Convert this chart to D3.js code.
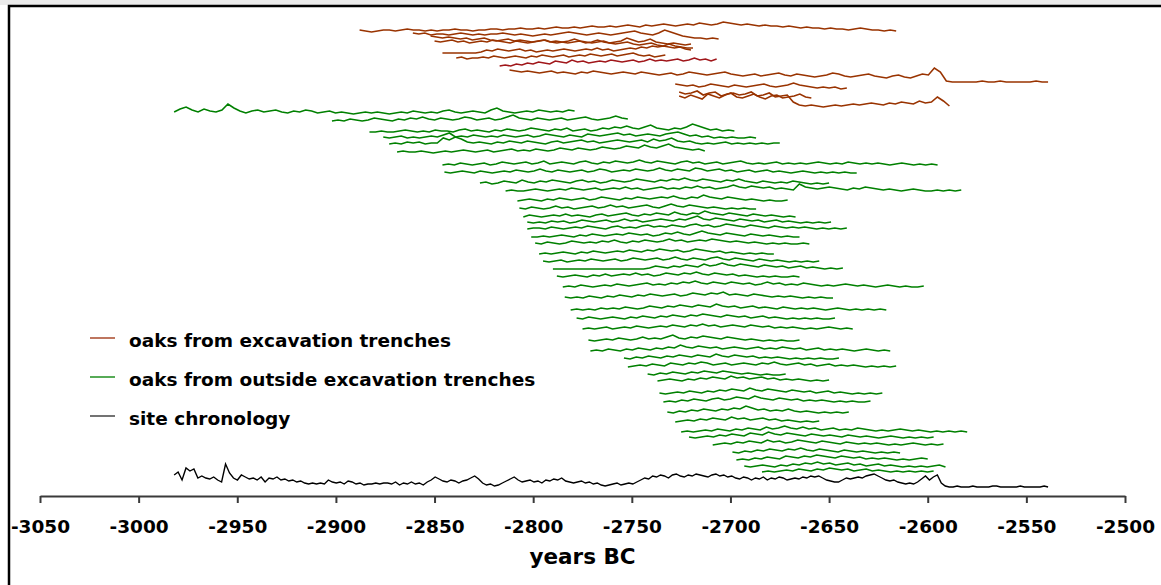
<!DOCTYPE html>
<html>
<head>
<meta charset="utf-8">
<script src="https://cdn.jsdelivr.net/npm/d3@7"></script>
<style>
  body { margin: 0; background: #fff; }
  svg { display: block; }
  text { font-family: "DejaVu Sans", Verdana, sans-serif; font-weight: bold; fill: #000; }
</style>
</head>
<body>
<svg id="chart" width="1161" height="585"></svg>
<script>
// x axis ticks (years BC)
const yearTicks = [-3050, -3000, -2950, -2900, -2850, -2800, -2750, -2700, -2650, -2600, -2550, -2500];

const legendLabels = ["oaks from excavation trenches", "oaks from outside excavation trenches", "site chronology"];

// oaks from excavation trenches: first year, last year, plotting offset, ring index
const brownStart = [-2888, -2861, -2852, -2850, -2846, -2839, -2817, -2812, -2728, -2726, -2726];
const brownEnd = [-2616, -2706, -2719, -2720, -2720, -2733, -2707, -2539, -2641, -2589, -2659];
const brownOffset = [463, 456, 446, 449, 441, 436, 428, 412, 406, 386, 394];
const brownRings = [
  [3,2,1,2,3,3,2,3,4,3,3,2,3,2,3,3,4,3,3,2,3,3,4,4,3,4,4,5,4,4,5,4,5,6,5,5,6,5,6,7,6,6,7,6,7,8,7,6,8,7,8,9,8,7,8,9,8,10,9,8,9,11,10,9,8,9,8,7,8,7,7,6,7,6,5,6,5,5,4,5,4,4,3,4,5,4,3,3,2,3,2],
  [7,6,7,5,6,6,5,6,7,6,5,6,5,6,6,7,6,5,6,5,4,5,6,5,6,7,8,7,6,5,6,7,6,5,6,7,8,9,7,6,5,7,10,8,6,4,3,2,2,1,2,1],
  [14,13,12,13,12,11,12,10,11,12,10,9,10,11,9,10,9,8,9,10,8,9,8,7,8,9,7,8,10,8,7,6,7,8,6,5,6,7,5,4,6,4,3,2,2],
  [6,5,6,7,5,6,4,5,6,5,7,6,5,4,6,5,4,5,6,7,5,4,5,6,8,6,5,4,5,6,4,5,6,9,7,5,6,8,5,4,3,4,3,2,3],
  [2,2,2,2,2,2,2,3,5,4,6,5,4,5,6,4,5,3,4,5,4,5,6,5,4,5,6,5,7,5,6,4,5,6,7,6,8,7,9,8,9,8,7,8,6,5],
  [2,3,1,2,2,3,2,4,3,2,3,4,3,2,4,3,5,4,3,4,5,3,4,5,4,6,5,4,5,6,4,5,6,7,5,4,5,3,4,5],
  [2,3,2,4,3,5,4,6,5,4,7,6,5,8,6,7,5,6,7,6,8,7,6,7,8,6,7,9,7,8,7,8,9,7,8,10,8,9,7,9],
  [14,13,12,13,12,11,12,13,11,12,11,10,12,11,13,12,11,10,11,12,11,10,12,11,10,9,10,11,9,10,12,11,10,9,10,11,12,10,9,8,9,10,8,9,10,11,9,8,10,9,8,7,8,9,11,10,8,7,8,9,10,8,7,6,8,9,7,6,8,10,9,16,12,3,2,2,2,2,2,3,2,2,3,2,2,2,2,2,3,2,2],
  [6,5,4,5,3,4,6,5,4,3,5,4,3,4,5,6,4,3,4,5,7,5,4,3,2,3,2,3,1,2],
  [18,16,17,19,15,17,18,14,16,17,15,16,18,14,15,17,13,14,15,8,5,4,5,4,3,4,5,4,5,6,5,6,7,6,5,7,6,8,7,6,9,7,8,13,9,4],
  [6,4,7,5,3,8,6,4,7,9,5,4,6,8,5,3,6,7,4,5,6,8,5,4]
];

// oaks from outside excavation trenches
const greenStart = [-2982, -2902, -2883, -2876, -2873, -2869, -2846, -2845, -2827, -2814, -2808, -2807, -2805, -2803, -2803, -2801, -2799, -2797, -2795, -2790, -2788, -2785, -2784, -2781, -2778, -2775, -2772, -2771, -2754, -2752, -2742, -2737, -2736, -2734, -2732, -2728, -2725, -2721, -2709, -2699, -2697, -2693, -2684];
const greenEnd = [-2779, -2752, -2698, -2687, -2675, -2713, -2595, -2636, -2650, -2583, -2671, -2687, -2667, -2649, -2641, -2665, -2660, -2678, -2655, -2643, -2665, -2602, -2648, -2621, -2647, -2638, -2665, -2619, -2645, -2616, -2672, -2650, -2623, -2629, -2640, -2655, -2580, -2597, -2592, -2614, -2600, -2591, -2597];
const greenOffset = [381, 373, 362, 356, 350, 342, 329, 321, 310, 303, 293, 285, 277, 271, 265, 257, 250, 240, 232, 225, 217, 207, 196, 184, 175, 165, 153, 143, 135, 127, 119, 113, 100, 92, 81, 72, 62, 56, 49, 41, 34, 27, 22];
const greenRings = [
  [3,6,8,5,3,6,4,3,5,11,7,4,2,4,5,3,4,5,3,2,4,3,5,4,2,3,4,2,3,2,1,2,3,2,3,2,1,2,3,2,4,3,2,3,2,4,5,3,2,3,4,3,2,5,7,4,3,2,3,4,3,5,4,3,4,3,5,4],
  [2,3,2,4,3,2,3,5,4,3,2,4,3,5,4,6,4,3,5,4,3,4,6,5,3,4,5,3,4,6,8,5,4,3,5,4,3,4,5,3,4,5,6,4,3,4,5,7,5,4],
  [2,2,3,2,2,3,4,3,2,3,2,4,3,3,2,4,5,3,4,3,2,4,3,5,4,3,4,6,5,4,3,5,4,6,3,4,5,3,4,6,5,7,6,8,6,5,7,9,6,5,4,6,5,7,10,8,6,4,5,3,4,3],
  [3,2,3,4,2,3,2,3,4,3,5,7,3,4,3,5,4,3,4,3,5,4,3,4,5,3,4,6,5,4,3,5,4,3,6,5,4,5,6,7,5,6,4,5,6,5,4,6,7,8,6,4,5,3,4,2,3,2,3,2,2,3,2],
  [2,3,2,4,3,4,2,3,3,8,6,9,7,4,3,4,3,2,4,3,5,4,3,5,4,3,2,4,5,3,4,5,6,4,5,3,4,5,6,5,4,5,6,4,7,5,6,8,5,4,5,3,2,3,2,3,4,2,3,2,3,2,3,2,3,3],
  [2,3,2,2,3,2,1,2,3,2,3,4,3,2,3,4,2,3,4,5,3,4,3,5,4,3,4,6,5,4,6,5,4,5,7,6,5,6,8,7,6,9,7,6,8,10,7,6,5,4,5,3],
  [2,3,2,4,3,2,3,4,2,3,5,4,3,4,5,3,4,6,3,4,5,4,3,5,6,4,3,5,4,6,5,4,5,7,5,4,6,5,4,3,5,6,4,5,3,4,5,3,4,5,6,4,3,4,3,4,5,3,4,3,4,3,4,5,4,3,4,3,5,4,3,4,3,4,3,2,3,4,3,2,3,2,3,2],
  [3,2,3,4,3,2,4,3,2,3,4,3,5,4,3,4,6,4,3,5,4,3,4,5,3,4,6,5,3,4,5,4,6,5,4,5,7,5,4,6,5,4,7,6,4,5,6,4,5,3,4,5,3,4,5,3,4,3,2,3,4,3,2,3,2,3,2,3,2,2],
  [3,4,2,3,5,4,3,6,4,3,5,4,6,5,4,3,5,6,4,5,3,4,6,5,4,5,7,6,5,4,6,5,7,6,8,6,5,7,6,5,4,6,5,7,5,4,3,5,4,3,4,3,5,4,3,2,3,2,3],
  [2,3,2,2,3,4,3,2,3,4,3,5,4,3,4,5,3,4,5,4,6,4,5,3,4,5,6,4,5,4,6,5,7,5,6,4,5,6,8,6,5,7,6,5,6,4,5,4,3,9,6,5,4,5,6,5,4,3,5,4,6,5,4,3,4,3,2,3,4,3,2,2,3,2,3,2,3],
  [2,3,4,3,2,4,3,5,4,3,4,5,3,4,6,5,4,3,5,4,6,5,4,5,6,5,7,5,4,6,5,8,6,5,4,6,5,4,3,4,3,2,3,2,2,3],
  [3,2,4,3,2,3,5,3,4,2,3,4,5,3,4,6,4,5,3,4,5,6,4,3,5,7,5,4,6,5,4,3,4,3,2,3,2,3,2,2],
  [2,4,3,2,3,4,3,5,3,4,3,2,4,5,3,4,5,6,4,3,5,4,6,5,4,7,5,4,6,5,8,6,5,4,6,5,4,3,5,4,3,4,3,2,3,2],
  [3,2,3,2,4,3,4,2,3,5,4,3,4,5,3,4,6,4,5,3,4,5,6,5,4,6,5,7,9,6,5,7,6,5,4,6,5,4,5,3,4,5,3,4,3,2,3,2,3,2,3],
  [2,3,3,2,4,3,2,3,4,3,5,4,3,2,4,5,3,4,3,5,6,4,5,4,6,5,4,6,7,5,6,4,5,7,6,5,4,6,5,4,3,5,4,3,4,3,4,3,2,3,2,3,2,3],
  [2,2,3,2,3,4,3,2,4,3,5,4,3,4,5,4,6,5,4,5,3,4,6,5,7,5,4,6,8,6,5,4,6,5,4,3,5,4,3,4,3,2,3,2,2],
  [3,2,4,3,2,3,5,4,3,4,3,5,4,6,4,3,5,4,6,5,4,5,7,5,6,4,5,6,5,7,6,5,4,5,4,3,4,3,2,3,2,3,2,2,3,2],
  [2,3,2,3,4,3,2,4,3,5,4,3,4,5,4,6,5,4,6,5,7,6,5,6,4,5,7,6,5,4,5,3,4,3,2,3,2,3,2,2],
  [3,2,3,4,2,3,4,3,5,4,3,4,5,3,4,6,5,4,5,6,4,5,7,5,4,6,5,4,6,7,5,4,6,5,4,3,5,4,3,4,3,2,3,2,3,2,3],
  [2,2,2,2,2,2,2,2,2,2,2,2,2,2,2,2,3,5,4,3,5,4,6,5,4,7,5,6,8,6,5,7,6,5,4,6,5,4,5,3,4,5,3,4,3,2,3,2,3],
  [3,2,3,4,3,2,4,3,5,3,4,5,4,6,4,5,3,4,6,5,4,6,5,7,5,4,6,5,4,5,3,4,3,2,3,2,3,2,2,3,2],
  [2,3,2,4,3,2,3,4,3,5,4,3,4,5,6,4,5,4,6,5,7,6,8,6,5,7,6,5,7,6,5,6,4,5,7,5,6,4,5,4,6,5,4,3,4,3,4,5,4,3,4,3,2,3,4,3,2,3,2,2,3],
  [3,2,3,2,4,3,2,4,3,5,4,3,5,4,6,5,4,5,6,4,5,7,6,5,7,6,8,5,6,5,4,6,5,4,3,4,3,4,3,2,3,2,3,2,2],
  [2,3,2,3,2,4,3,4,3,5,4,3,4,6,5,4,6,5,7,6,5,7,6,5,8,6,5,6,4,5,6,4,5,4,3,5,4,3,4,3,4,3,2,3,4,3,2,3,2,3,2,3,2],
  [3,2,4,3,2,3,4,3,2,4,3,5,4,3,5,4,6,5,4,6,5,7,6,5,4,6,5,4,5,3,4,5,3,4,3,2,3,2,3,2,3,2,2,3],
  [2,3,2,3,4,2,3,4,3,5,4,3,4,5,4,6,5,4,6,5,7,5,6,4,5,6,5,4,6,5,4,5,3,4,3,4,3,2,3,2,3,4,3,2,3,2],
  [3,2,3,4,3,5,4,3,4,6,4,5,4,6,8,5,4,6,5,7,6,5,4,6,5,4,3,4,3,2,3,2,3,2,2,3],
  [2,3,2,4,3,2,4,3,5,4,3,5,4,6,5,8,6,5,7,6,5,6,4,5,6,5,4,5,6,4,5,4,6,5,4,5,3,4,5,3,4,3,4,3,2,3,4,3,2,3,2],
  [3,2,4,3,5,4,3,5,4,6,5,4,6,5,4,7,5,4,6,5,4,5,3,4,3,4,3,2,3,2,3,2,3,2,2,3],
  [2,3,4,3,5,4,3,6,5,4,6,5,7,6,4,5,6,4,5,6,5,4,6,5,7,5,4,5,6,4,5,3,4,5,3,4,3,4,3,2,3,2,3,2,3],
  [3,2,4,3,5,4,3,5,4,6,5,4,6,5,4,3,4,3,2,3,2,2,3],
  [2,3,4,3,2,4,3,5,4,6,5,4,7,5,6,4,5,6,4,5,3,4,3,4,3,2,3,2,3],
  [3,2,3,4,3,5,4,3,5,4,6,5,7,6,5,8,6,5,7,6,5,4,6,5,4,5,3,4,5,3,4,3,2,3,2,3,2,3],
  [2,3,2,4,3,5,4,3,5,6,4,5,7,6,5,8,6,5,4,6,5,4,5,3,4,3,4,3,2,3,2,3,2,2,3],
  [3,2,4,3,5,4,6,5,4,6,5,7,6,9,7,5,6,4,5,4,6,4,3,4,3,2,3,2,3,2,3],
  [2,3,4,3,5,4,6,5,4,7,5,6,4,5,6,4,5,3,4,3,2,3,2,3],
  [2,3,2,3,4,3,5,4,3,5,4,6,5,4,7,5,6,8,6,5,7,5,6,4,5,6,4,5,4,6,5,4,3,4,3,4,5,4,3,4,3,2,3,2,3,2,3,2],
  [3,2,3,4,3,5,4,6,5,4,7,6,5,8,6,5,7,6,5,4,6,5,4,5,4,3,5,4,3,4,3,2,3,4,3,2,3,2,3,2,3],
  [2,3,4,3,5,4,6,5,4,7,5,6,4,5,7,6,5,4,6,5,4,3,5,4,3,4,3,4,3,2,3,2,3,4,3,2,3,2,3],
  [3,2,4,3,5,4,6,5,4,6,5,7,5,4,6,5,4,3,5,4,3,4,3,2,3,2,3,2],
  [2,3,2,4,3,5,4,3,6,5,4,6,5,7,6,5,4,6,5,4,5,3,4,3,4,3,2,3,2,3,4,3],
  [3,2,3,4,3,2,4,3,5,4,6,5,7,5,6,4,5,6,4,5,3,4,5,3,4,3,2,3,2,3,2,3,4,2],
  [2,3,2,3,4,3,5,4,3,5,4,6,5,4,5,3,4,5,3,4,3,2,3,2,3,2,3,2,3]
];

// site chronology (2-year steps)
const siteStart = -2982;
const siteEnd = -2539;
const siteOffset = 8;
const siteRings = [
  13,16,8,20,17,19,10,12,10,9,11,8,6,24,15,10,8,13,11,9,10,8,11,6,10,9,11,8,9,7,8,6,7,5,4,5,4,5,4,8,6,5,6,4,7,6,4,5,3,4,4,5,4,5,
  5,4,6,3,5,4,6,4,5,3,6,8,11,9,7,6,8,7,5,7,8,10,12,9,5,3,4,2,3,5,7,9,11,8,6,7,8,6,7,5,8,7,9,8,10,
  7,6,5,6,7,5,6,4,5,3,2,3,4,5,3,4,5,4,6,8,10,9,12,11,13,12,10,13,14,12,11,13,12,14,13,12,11,13,14,12,13,11,12,
  10,9,11,10,8,10,9,11,8,10,9,11,10,8,9,10,9,11,10,12,11,12,10,8,7,6,6,8,10,9,10,11,10,12,13,14,12,10,8,7,8,6,
  5,4,5,4,6,9,12,8,11,13,5,2,1,1,2,1,1,1,2,1,1,1,1,2,2,1,1,1,1,1,2,1,1,1,1,1,2,1
];

/**
 * turns one ring series into points spread over its first and last year
 */
function ringPoints(start, end, offset, rings) {
  const step = (end - start) / (rings.length - 1);
  return rings.map((r, i) => ({ year: start + i * step, value: offset + r }));
}

function drawChart() {
  const svg = d3.select("#chart");
  const width = +svg.attr("width");
  const height = +svg.attr("height");

  // window strip and frame
  svg.append("rect")
    .attr("x", 0).attr("y", 0)
    .attr("width", width).attr("height", 5)
    .attr("fill", "#ebebeb");
  svg.append("rect")
    .attr("x", 9).attr("y", 6)
    .attr("width", width + 20).attr("height", height + 20)
    .attr("fill", "none")
    .attr("stroke", "#000")
    .attr("stroke-width", 2.5);

  const x = d3.scaleLinear().domain([-3050, -2500]).range([40, 1125]);
  const y = d3.scaleLinear().domain([0, 490]).range([496, 6]);

  const line = d3.line()
    .x((d) => x(d.year))
    .y((d) => y(d.value));

  const plot = svg.append("g");

  // brown series
  brownRings.forEach((rings, i) => {
    plot.append("path")
      .datum(ringPoints(brownStart[i], brownEnd[i], brownOffset[i], rings))
      .attr("fill", "none")
      .attr("stroke", i === 6 ? "#a0161a" : "#993300")
      .attr("stroke-width", 1.6)
      .attr("d", line);
  });

  // green series
  greenRings.forEach((rings, i) => {
    plot.append("path")
      .datum(ringPoints(greenStart[i], greenEnd[i], greenOffset[i], rings))
      .attr("fill", "none")
      .attr("stroke", "#008000")
      .attr("stroke-width", 1.6)
      .attr("d", line);
  });

  // site chronology
  plot.append("path")
    .datum(ringPoints(siteStart, siteEnd, siteOffset, siteRings))
    .attr("fill", "none")
    .attr("stroke", "#000")
    .attr("stroke-width", 1.4)
    .attr("d", line);

  // bottom axis
  const xAxis = svg.append("g")
    .attr("transform", "translate(0," + y(0) + ")")
    .call(
      d3.axisBottom(x)
        .tickValues(yearTicks)
        .tickSize(7)
        .tickSizeOuter(0)
        .tickPadding(17)
        .tickFormat((d) => String(d))
    );
  xAxis.select(".domain").attr("stroke", "#3a3a3a").attr("stroke-width", 2);
  xAxis.selectAll(".tick line").attr("stroke", "#3a3a3a").attr("stroke-width", 2);
  xAxis.selectAll(".tick text").attr("font-size", "18.5px");

  svg.append("text")
    .attr("x", x(-2775))
    .attr("y", 564)
    .attr("text-anchor", "middle")
    .attr("font-size", "21.5px")
    .text("years BC");

  // legend
  const legendColors = ["#a8482a", "#1f8f1f", "#444"];
  const legend = svg.append("g");
  legendLabels.forEach((label, i) => {
    const ly = 338 + i * 39;
    legend.append("line")
      .attr("x1", 90).attr("x2", 115)
      .attr("y1", ly).attr("y2", ly)
      .attr("stroke", legendColors[i])
      .attr("stroke-width", 1.5);
    legend.append("text")
      .attr("x", 129)
      .attr("y", ly + 8.5)
      .attr("font-size", "18.5px")
      .text(label);
  });
}

drawChart();
</script>
</body>
</html>
